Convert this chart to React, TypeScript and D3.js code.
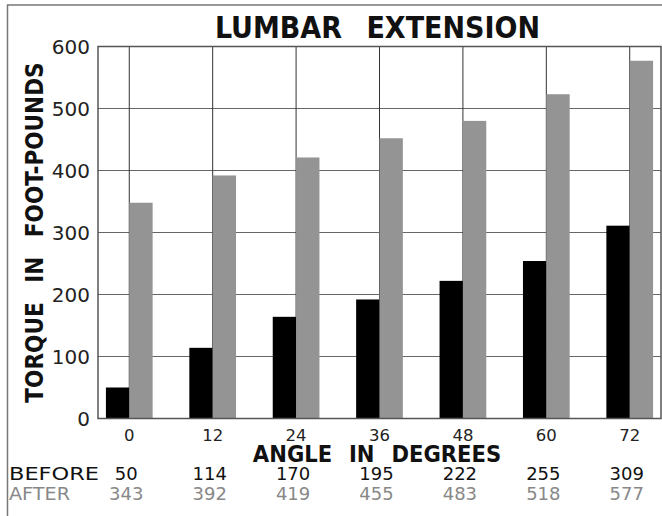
import React from "react";
import * as d3 from "d3";

const angles = ["0", "12", "24", "36", "48", "60", "72"];
// bar heights as drawn
const beforeBars = [50, 114, 164, 192, 222, 254, 311];
const afterBars = [348, 392, 421, 452, 480, 523, 577];
// printed table below the chart
const beforeTable = [50, 114, 170, 195, 222, 255, 309];
const afterTable = [343, 392, 419, 455, 483, 518, 577];
const yTicks = [0, 100, 200, 300, 400, 500, 600];

const W = 662;
const H = 516;
const plot = { left: 98, right: 661, top: 46.5, bottom: 418.5 };

const boldFont = "'DejaVu Sans Condensed', 'DejaVu Sans', sans-serif";
const regFont = "'DejaVu Sans', sans-serif";

export default function App() {
  const x = d3
    .scalePoint<string>()
    .domain(angles)
    .range([plot.left, plot.right])
    .padding(0.375);
  const y = d3.scaleLinear().domain([0, 600]).range([plot.bottom, plot.top]);
  const barW = x.step() * 0.28;

  return (
    <svg
      width={W}
      height={H}
      style={{ position: "absolute", left: 0, top: 0, background: "#fff" }}
    >
      {/* outer frame */}
      <rect x={7.5} y={5} width={700} height={600} fill="none" stroke="#777" strokeWidth={1.5} />

      {/* title */}
      <text
        x={377.5}
        y={38.3}
        textAnchor="middle"
        fontFamily={boldFont}
        fontWeight="bold"
        fontSize={30}
        wordSpacing={15}
        fill="#111"
      >
        LUMBAR EXTENSION
      </text>

      {/* horizontal grid */}
      {yTicks
        .filter((t) => t > 0 && t < 600)
        .map((t) => (
          <line
            key={"h" + t}
            x1={plot.left}
            x2={plot.right}
            y1={y(t)}
            y2={y(t)}
            stroke="#666"
            strokeWidth={1.2}
          />
        ))}
      {/* vertical grid */}
      {angles.map((a) => (
        <line
          key={"v" + a}
          x1={x(a)}
          x2={x(a)}
          y1={plot.top}
          y2={plot.bottom}
          stroke="#333"
          strokeWidth={1}
        />
      ))}

      {/* bars */}
      {angles.map((a, i) => (
        <g key={"b" + a}>
          <rect
            x={(x(a) as number) - barW}
            y={y(beforeBars[i])}
            width={barW}
            height={y(0) - y(beforeBars[i])}
            fill="#000"
          />
          <rect
            x={x(a) as number}
            y={y(afterBars[i])}
            width={barW}
            height={y(0) - y(afterBars[i])}
            fill="#949494"
          />
        </g>
      ))}

      {/* plot frame */}
      <rect
        x={plot.left}
        y={plot.top}
        width={plot.right - plot.left}
        height={plot.bottom - plot.top}
        fill="none"
        stroke="#555"
        strokeWidth={1.5}
      />

      {/* y tick labels */}
      {yTicks.map((t) => (
        <text
          key={"yt" + t}
          x={90}
          y={y(t)}
          dy="0.36em"
          textAnchor="end"
          fontFamily={regFont}
          fontSize={20}
          fill="#222"
        >
          {t}
        </text>
      ))}

      {/* y axis title */}
      <text
        transform={`translate(42.7, ${(plot.top + plot.bottom) / 2}) rotate(-90)`}
        textAnchor="middle"
        fontFamily={boldFont}
        fontWeight="bold"
        fontSize={24}
        wordSpacing={12}
        fill="#111"
      >
        TORQUE IN FOOT-POUNDS
      </text>

      {/* x tick labels */}
      {angles.map((a) => (
        <text
          key={"xt" + a}
          x={x(a)}
          y={440.5}
          textAnchor="middle"
          fontFamily={regFont}
          fontSize={16.5}
          fill="#222"
        >
          {a}
        </text>
      ))}

      {/* x axis title */}
      <text
        x={377}
        y={462}
        textAnchor="middle"
        fontFamily={boldFont}
        fontWeight="bold"
        fontSize={23.5}
        wordSpacing={9.5}
        fill="#111"
      >
        ANGLE IN DEGREES
      </text>

      {/* table */}
      <text
        x={9}
        y={479.8}
        fontFamily={regFont}
        fontSize={17.5}
        textLength={90}
        lengthAdjust="spacingAndGlyphs"
        fill="#111"
      >
        BEFORE
      </text>
      <text
        x={9}
        y={499.5}
        fontFamily={regFont}
        fontSize={17.5}
        textLength={61}
        lengthAdjust="spacingAndGlyphs"
        fill="#888"
      >
        AFTER
      </text>
      {angles.map((a, i) => (
        <g key={"tb" + a}>
          <text
            x={(x(a) as number) - 3}
            y={479.8}
            textAnchor="middle"
            fontFamily={regFont}
            fontSize={18}
            fill="#111"
          >
            {beforeTable[i]}
          </text>
          <text
            x={(x(a) as number) - 3}
            y={499.5}
            textAnchor="middle"
            fontFamily={regFont}
            fontSize={18}
            fill="#888"
          >
            {afterTable[i]}
          </text>
        </g>
      ))}
    </svg>
  );
}
